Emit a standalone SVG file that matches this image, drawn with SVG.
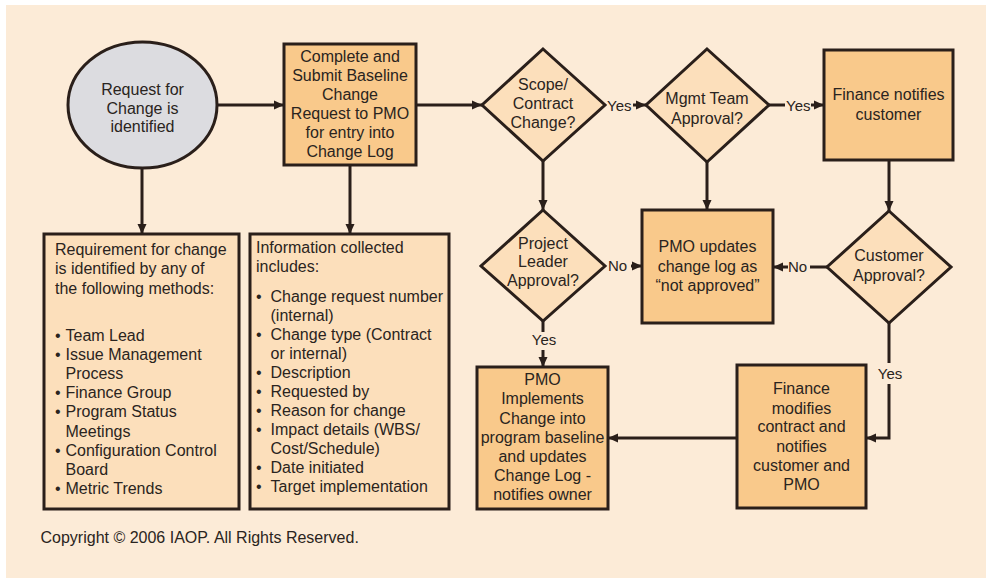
<svg xmlns="http://www.w3.org/2000/svg" width="986" height="579" viewBox="0 0 986 579">
  <style>
    .bg { fill: #fcebd7; }
    .box { fill: #f9c98b; stroke: #2a1f1a; stroke-width: 3; }
    .light { fill: #fcdfbb; stroke: #2a1f1a; stroke-width: 3; }
    .oval { fill: #dcdce0; stroke: #2a1f1a; stroke-width: 3; }
    text { font-family: "Liberation Sans", Arial, sans-serif; font-size: 16px; fill: #2a2420; }
    .c { text-anchor: middle; }
    .lbl { font-size: 15px; }
    .wire { fill: none; stroke: #2a1f1a; stroke-width: 3; }
    .arr { marker-end: url(#head); }
  </style>
  <defs>
    <marker id="head" markerUnits="userSpaceOnUse" markerWidth="12" markerHeight="12" refX="10" refY="5" orient="auto">
      <path d="M0,0.5 L10,5 L0,9.5 Z" fill="#2a1f1a"/>
    </marker>
  </defs>

  <rect class="bg" x="6" y="5" width="980" height="573"/>

  <!-- connectors -->
  <g id="connectors">
    <path class="wire arr" d="M217,105 H284"/>
    <path class="wire arr" d="M142,168 V234"/>
    <path class="wire arr" d="M350,165 V234"/>
    <path class="wire arr" d="M416,105 H482"/>
    <path class="wire arr" d="M633,105 H646"/>
    <path class="wire" d="M769,105 H785"/>
    <path class="wire arr" d="M811,105 H824"/>
    <path class="wire arr" d="M889,160 V211"/>
    <path class="wire arr" d="M543,161 V210"/>
    <path class="wire arr" d="M707,162 V210"/>
    <path class="wire arr" d="M631,266 H642"/>
    <path class="wire" d="M827,267 H810"/>
    <path class="wire arr" d="M788,267 H773"/>
    <path class="wire" d="M543,321 V332"/>
    <path class="wire arr" d="M543,350 V367"/>
    <path class="wire" d="M889,323 V363"/>
    <path class="wire arr" d="M889,384 V438 H866"/>
    <path class="wire arr" d="M737,438 H608"/>
    <text class="lbl" x="607" y="111">Yes</text>
    <text class="lbl" x="786" y="111">Yes</text>
    <text class="lbl" x="608" y="271">No</text>
    <text class="lbl" x="788" y="272">No</text>
    <text class="lbl c" x="544" y="345">Yes</text>
    <text class="lbl c" x="890" y="379">Yes</text>
  </g>

  <!-- start -->
  <g id="request">
    <ellipse class="oval" cx="142.5" cy="105" rx="74.5" ry="63"/>
    <text class="c" x="142.5" y="95">Request for</text>
    <text class="c" x="142.5" y="113.5">Change is</text>
    <text class="c" x="142.5" y="132">identified</text>
  </g>

  <g id="submit">
    <rect class="box" x="284" y="44" width="132" height="121"/>
    <text class="c" x="350" y="61.5">Complete and</text>
    <text class="c" x="350" y="80.5">Submit Baseline</text>
    <text class="c" x="350" y="99.5">Change</text>
    <text class="c" x="350" y="118.5">Request to PMO</text>
    <text class="c" x="350" y="137.5">for entry into</text>
    <text class="c" x="350" y="156.5">Change Log</text>
  </g>

  <g id="scope">
    <path class="light" d="M543,49 L605,105 L543,161 L482,105 Z"/>
    <text class="c" x="543" y="90">Scope/</text>
    <text class="c" x="543" y="108.5">Contract</text>
    <text class="c" x="543" y="127.5">Change?</text>
  </g>

  <g id="mgmt">
    <path class="light" d="M707,49 L769,105 L707,162 L646,105 Z"/>
    <text class="c" x="707" y="104">Mgmt Team</text>
    <text class="c" x="707" y="123.5">Approval?</text>
  </g>

  <g id="finance-notifies">
    <rect class="box" x="824" y="50" width="129" height="110"/>
    <text class="c" x="888.5" y="100">Finance notifies</text>
    <text class="c" x="888.5" y="119.5">customer</text>
  </g>

  <g id="leader">
    <path class="light" d="M543,210 L605,266 L543,321 L481,266 Z"/>
    <text class="c" x="543" y="248.5">Project</text>
    <text class="c" x="543" y="266.5">Leader</text>
    <text class="c" x="543" y="285.5">Approval?</text>
  </g>

  <g id="not-approved">
    <rect class="box" x="642" y="210" width="131" height="113"/>
    <text class="c" x="707.5" y="252">PMO updates</text>
    <text class="c" x="707.5" y="271.5">change log as</text>
    <text class="c" x="707.5" y="291">“not approved”</text>
  </g>

  <g id="customer">
    <path class="light" d="M889,211 L951,267 L889,323 L827,267 Z"/>
    <text class="c" x="889" y="261">Customer</text>
    <text class="c" x="889" y="281">Approval?</text>
  </g>

  <g id="methods">
    <rect class="light" x="44" y="234" width="195" height="275"/>
    <text x="55" y="255">Requirement for change</text>
    <text x="55" y="274">is identified by any of</text>
    <text x="55" y="293.5">the following methods:</text>
    <text x="55" y="341">•</text><text x="65.5" y="341">Team Lead</text>
    <text x="55" y="360">•</text><text x="65.5" y="360">Issue Management</text>
    <text x="65.5" y="379">Process</text>
    <text x="55" y="398">•</text><text x="65.5" y="398">Finance Group</text>
    <text x="55" y="417">•</text><text x="65.5" y="417">Program Status</text>
    <text x="65.5" y="436.5">Meetings</text>
    <text x="55" y="455.5">•</text><text x="65.5" y="455.5">Configuration Control</text>
    <text x="65.5" y="475">Board</text>
    <text x="55" y="494">•</text><text x="65.5" y="494">Metric Trends</text>
  </g>

  <g id="info">
    <rect class="light" x="250" y="234" width="199" height="275"/>
    <text x="256" y="253">Information collected</text>
    <text x="256" y="272">includes:</text>
    <text x="256" y="302">•</text><text x="270.5" y="302">Change request number</text>
    <text x="270.5" y="321">(internal)</text>
    <text x="256" y="340">•</text><text x="270.5" y="340">Change type (Contract</text>
    <text x="270.5" y="359">or internal)</text>
    <text x="256" y="378">•</text><text x="270.5" y="378">Description</text>
    <text x="256" y="397">•</text><text x="270.5" y="397">Requested by</text>
    <text x="256" y="416">•</text><text x="270.5" y="416">Reason for change</text>
    <text x="256" y="435">•</text><text x="270.5" y="435">Impact details (WBS/</text>
    <text x="270.5" y="454">Cost/Schedule)</text>
    <text x="256" y="473">•</text><text x="270.5" y="473">Date initiated</text>
    <text x="256" y="492">•</text><text x="270.5" y="492">Target implementation</text>
  </g>

  <g id="implement">
    <rect class="box" x="477" y="367" width="131" height="142"/>
    <text class="c" x="542.5" y="385">PMO</text>
    <text class="c" x="542.5" y="404">Implements</text>
    <text class="c" x="542.5" y="423.5">Change into</text>
    <text class="c" x="542.5" y="442.5">program baseline</text>
    <text class="c" x="542.5" y="461.5">and updates</text>
    <text class="c" x="542.5" y="480.5">Change Log -</text>
    <text class="c" x="542.5" y="500">notifies owner</text>
  </g>

  <g id="finance-modifies">
    <rect class="box" x="737" y="365" width="129" height="143"/>
    <text class="c" x="801.5" y="394">Finance</text>
    <text class="c" x="801.5" y="413.5">modifies</text>
    <text class="c" x="801.5" y="432">contract and</text>
    <text class="c" x="801.5" y="451.5">notifies</text>
    <text class="c" x="801.5" y="471">customer and</text>
    <text class="c" x="801.5" y="489.5">PMO</text>
  </g>

  <text x="40.5" y="543" style="font-size:16px">Copyright © 2006 IAOP. All Rights Reserved.</text>
</svg>
